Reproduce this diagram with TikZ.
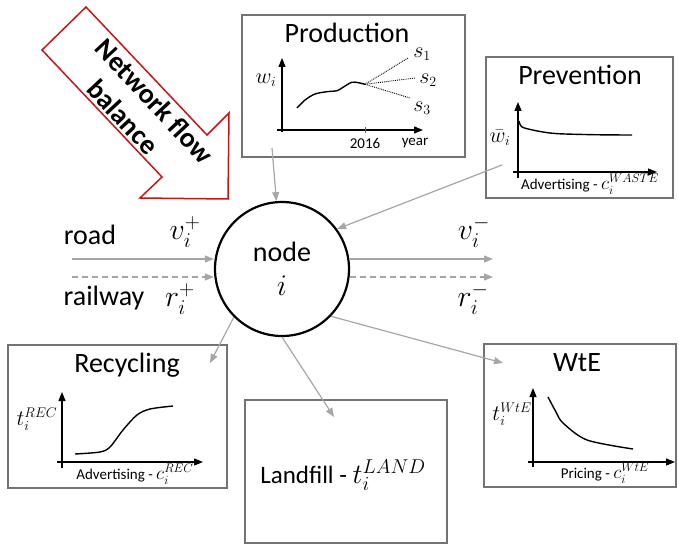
\RequirePackage{fix-cm}
\documentclass[tikz,border=0pt]{standalone}
\usepackage{fontspec}
\setmainfont{Carlito}
\usetikzlibrary{arrows.meta}
\definecolor{netred}{RGB}{200,20,20}
\newcommand{\titlesize}{\fontsize{28}{34}\selectfont}
\newcommand{\landsize}{\fontsize{25}{28}\selectfont}
\newcommand{\ticksize}{\fontsize{15}{18}\selectfont}
\newcommand{\varsize}{\fontsize{22}{24}\selectfont}
\DeclareMathSizes{28}{30}{21}{15}
\DeclareMathSizes{25}{28}{20}{14}
\DeclareMathSizes{22}{22}{14}{10}
\DeclareMathSizes{15}{19}{12.5}{9}

\begin{document}
\begin{tikzpicture}[x=1pt, y=-1pt] %waste flows at node i
  \tikzstyle{panel} = [draw=black!55, line width=1.3pt, inner sep=0pt, minimum height=142pt]
  \tikzstyle{paneltitle} = [font=\titlesize, inner sep=0pt]
  \tikzstyle{hub} = [circle, draw, line width=2.2pt, minimum size=134pt, align=center, font=\titlesize]
  \tikzstyle{flowline} = [draw=black!35, line width=1.2pt, -{Triangle[length=9pt,width=7pt]}]
  \tikzstyle{axisline} = [line width=1.2pt, -{Triangle[length=9pt,width=7pt]}]
  \tikzstyle{trend} = [line width=1.4pt]
  \tikzstyle{ticklabel} = [font=\ticksize, inner sep=0pt]
  \tikzstyle{varlabel} = [font=\varsize, inner sep=0pt]
  \tikzstyle{netarrow} = [draw=netred, line width=1.5pt, line join=miter]
  \tikzstyle{nettext} = [font=\titlesize\bfseries, rotate=-47, inner sep=0pt]
  \useasboundingbox (0,0) rectangle (679,545);

  % big red arrow
  \draw[netarrow] (86,7) -- (42,50) -- (162,177) -- (140,198) -- (228,199) -- (229,113) -- (207,135) -- cycle;
  \node[nettext] (net1) at (155,101) {Network flow};
  \node[nettext] (net2) at (123,117) {balance};

  % boxes
  \node[panel, minimum width=223pt] (prod) at (353.5,86) {};
  \node[panel, minimum width=187pt, minimum height=141pt] (prev) at (579.5,127.5) {};
  \node[panel, minimum width=219pt, minimum height=143pt] (rec) at (117.5,416.5) {};
  \node[panel, minimum width=202pt, minimum height=143pt] (land) at (346,471.5) {};
  \node[panel, minimum width=192pt, minimum height=143pt] (wte) at (580,415.5) {};

  \node[paneltitle] (prodt) at (347,33) {Production};
  \node[paneltitle] (prevt) at (580,75) {Prevention};
  \node[paneltitle] (rect) at (127,365) {Recycling};
  \node[paneltitle] (wtet) at (577,363) {WtE};
  \node[font=\landsize, inner sep=0pt] (landt) at (343,475) {Landfill - $t_i^{LAND}$};

  % production plot
  \draw[axisline] (282,132) -- (282,58);
  \draw[axisline] (277,130) -- (423,130);
  \draw[blue!70, line width=0.8pt] (365,127) -- (365,133);
  \draw[trend] plot[smooth] coordinates {(297,108) (305,100) (315,94) (327,91.7) (337,90.7) (343,87.3) (351.7,82.3) (358.3,82.7) (365,84.3)};
  \coordinate (split) at (365,84.3);
  \foreach \name/\px/\py in {s1/408/58, s2/415/78, s3/410/98}
  {
    \draw[densely dotted, line width=0.9pt] (split) -- (\px,\py);
  }
  \node[varlabel] (s1) at (422,54) {$s_1$};
  \node[varlabel] (s2) at (428,80) {$s_2$};
  \node[varlabel] (s3) at (422,108) {$s_3$};
  \node[varlabel] (wlab) at (266,80) {$w_i$};
  \node[ticklabel] (year0) at (365,143) {2016};
  \node[ticklabel] (yearlab) at (415,143) {year};

  % prevention plot
  \draw[axisline] (518,178) -- (518,102);
  \draw[axisline] (513,172) -- (657,172);
  \draw[trend] plot[smooth] coordinates {(519,121) (522,127) (535,130.5) (550,133) (565,134) (600,134.8) (632,135)};
  \node[varlabel] (wbar) at (500,138) {$\bar{w}_i$};
  \node[ticklabel] (prevx) at (590,184) {Advertising - $c_i^{WASTE}$};

  % recycling plot
  \draw[axisline] (62,468) -- (62,392);
  \draw[axisline] (57,462) -- (203,462);
  \draw[trend] plot[smooth] coordinates {(75,454) (100,452) (110,447) (123,430) (137,415) (150,409) (173,406)};
  \node[varlabel] (tre) at (37,419) {$t_i^{REC}$};
  \node[ticklabel] (recx) at (135,474) {Advertising - $c_i^{REC}$};

  % wte plot
  \draw[axisline] (533,467) -- (533,388);
  \draw[axisline] (528,462) -- (675,462);
  \draw[trend] plot[smooth] coordinates {(548,397) (556,412) (563,423) (587,440) (633,449)};
  \node[varlabel] (twt) at (512,414) {$t_i^{WtE}$};
  \node[ticklabel] (wtex) at (605,473) {Pricing - $c_i^{WtE}$};

  % node i and flows
  \node[hub] (nd) at (282,269) {node\\$i$};
  \coordinate (prodout) at (272,148);
  \coordinate (prevout) at (502,165);
  \coordinate (recin) at (210,363);
  \coordinate (landin) at (334,417);
  \coordinate (wtein) at (503,363);
  \coordinate (roadin) at (72,259);
  \coordinate (railin) at (72,277);
  \coordinate (roadout) at (493,259);
  \coordinate (railout) at (493,277);

  \draw[flowline] (prodout) -- (nd);
  \draw[flowline] (prevout) -- (nd.36);
  \foreach \ang/\target in {225/recin, 270/landin, 316/wtein}
  {
    \draw[flowline] (nd.\ang) -- (\target);
  }
  \draw[flowline] (roadin) -- (roadin -| nd.west);
  \draw[flowline, dash pattern=on 6pt off 4pt] (railin) -- (railin -| nd.west);
  \draw[flowline] (roadin -| nd.east) -- (roadout);
  \draw[flowline, dash pattern=on 6pt off 4pt] (railin -| nd.east) -- (railout);

  \node[font=\titlesize, inner sep=0pt] (road) at (90,235) {road};
  \node[font=\titlesize, inner sep=0pt] (rail) at (104,298) {railway};
  \node[font=\titlesize, inner sep=0pt] (vin) at (185,232) {$v_i^+$};
  \node[font=\titlesize, inner sep=0pt] (rin) at (180,299) {$r_i^+$};
  \node[font=\titlesize, inner sep=0pt] (vout) at (474,232) {$v_i^-$};
  \node[font=\titlesize, inner sep=0pt] (rout) at (473,299) {$r_i^-$};
\end{tikzpicture}
\end{document}
